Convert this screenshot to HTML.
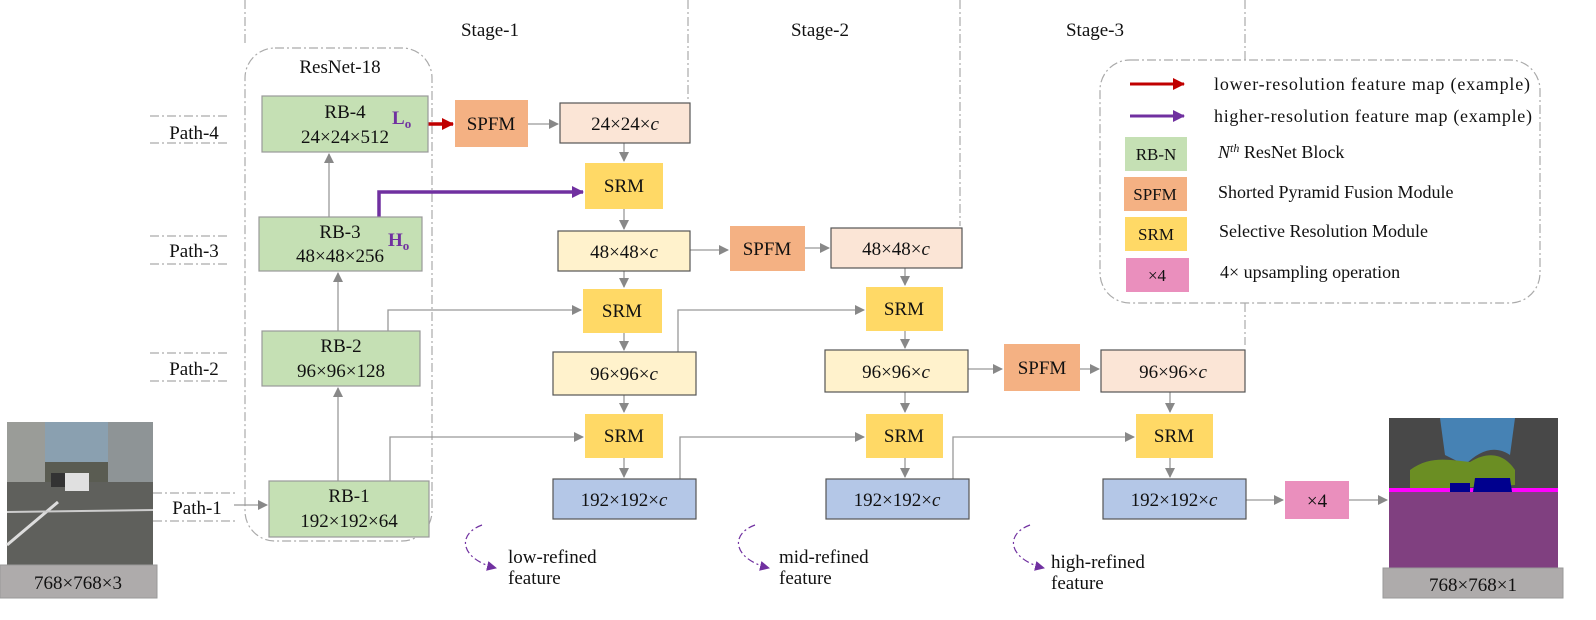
<!DOCTYPE html>
<html><head><meta charset="utf-8"><style>
html,body{margin:0;padding:0;background:#fff;}
svg{display:block;font-family:"Liberation Serif",serif;}
</style></head><body>
<svg width="1596" height="620" viewBox="0 0 1596 620" xmlns="http://www.w3.org/2000/svg">
<defs>
<marker id="g" markerWidth="10" markerHeight="10" refX="9" refY="5" orient="auto" markerUnits="userSpaceOnUse"><path d="M0,0 L10,5 L0,10 z" fill="#888"/></marker>
<marker id="r" markerWidth="12" markerHeight="12" refX="11" refY="6" orient="auto" markerUnits="userSpaceOnUse"><path d="M0,0 L12,6 L0,12 z" fill="#c00000"/></marker>
<marker id="p" markerWidth="12" markerHeight="12" refX="11" refY="6" orient="auto" markerUnits="userSpaceOnUse"><path d="M0,0 L12,6 L0,12 z" fill="#7030a0"/></marker>
<marker id="pc" markerWidth="10" markerHeight="10" refX="9" refY="5" orient="auto" markerUnits="userSpaceOnUse"><path d="M0,0 L10,5 L0,10 z" fill="#7030a0"/></marker>
</defs>
<g stroke="#aaa" stroke-width="1.2" fill="none" stroke-dasharray="9,3,2,3">
<line x1="245" y1="0" x2="245" y2="46"/>
<line x1="688" y1="0" x2="688" y2="102"/>
<line x1="960" y1="0" x2="960" y2="226"/>
<line x1="1245" y1="0" x2="1245" y2="60"/>
<line x1="1245" y1="303" x2="1245" y2="345"/>
<rect x="245" y="48" width="187" height="493" rx="30"/>
<rect x="1100" y="60" width="440" height="243" rx="30"/>
<line x1="150" y1="116" x2="228" y2="116"/><line x1="150" y1="143" x2="228" y2="143"/>
<line x1="150" y1="236" x2="228" y2="236"/><line x1="150" y1="264" x2="228" y2="264"/>
<line x1="150" y1="353" x2="228" y2="353"/><line x1="150" y1="381" x2="228" y2="381"/>
<line x1="153" y1="493" x2="235" y2="493"/><line x1="153" y1="521" x2="235" y2="521"/>
</g>
<g font-size="19" fill="#111" text-anchor="middle">
<text x="490" y="36">Stage-1</text><text x="820" y="36">Stage-2</text><text x="1095" y="36">Stage-3</text>
<text x="340" y="73">ResNet-18</text>
<text x="194" y="139">Path-4</text><text x="194" y="257">Path-3</text><text x="194" y="375">Path-2</text><text x="197" y="514">Path-1</text>
</g>
<g stroke="#999" stroke-width="1.3" fill="none" marker-end="url(#g)">
<line x1="234" y1="505" x2="267" y2="505"/>
<line x1="338" y1="481" x2="338" y2="388"/>
<line x1="338" y1="331" x2="338" y2="273"/>
<line x1="329" y1="217" x2="329" y2="154"/>
<line x1="528" y1="124" x2="558" y2="124"/>
<line x1="624" y1="143" x2="624" y2="161"/>
<line x1="624" y1="209" x2="624" y2="229"/>
<line x1="690" y1="250" x2="728" y2="250"/>
<line x1="805" y1="248" x2="829" y2="248"/>
<line x1="624" y1="271" x2="624" y2="287"/>
<polyline points="388,331 388,310 581,310"/>
<line x1="624" y1="333" x2="624" y2="350"/>
<line x1="905" y1="268" x2="905" y2="285"/>
<polyline points="678,352 678,310 864,310"/>
<line x1="905" y1="331" x2="905" y2="348"/>
<line x1="968" y1="369" x2="1002" y2="369"/>
<line x1="1080" y1="369" x2="1099" y2="369"/>
<line x1="624" y1="395" x2="624" y2="412"/>
<polyline points="390,481 390,437 583,437"/>
<line x1="624" y1="458" x2="624" y2="477"/>
<polyline points="680,479 680,437 864,437"/>
<line x1="905" y1="392" x2="905" y2="412"/>
<line x1="905" y1="458" x2="905" y2="477"/>
<polyline points="953,479 953,437 1134,437"/>
<line x1="1170" y1="392" x2="1170" y2="412"/>
<line x1="1170" y1="458" x2="1170" y2="477"/>
<line x1="1246" y1="500" x2="1283" y2="500"/>
<line x1="1349" y1="500" x2="1387" y2="500"/>
</g>
<line x1="428" y1="124" x2="453" y2="124" stroke="#c00000" stroke-width="3.5" marker-end="url(#r)"/>
<polyline points="379,217 379,192 583,192" stroke="#7030a0" stroke-width="3.5" fill="none" marker-end="url(#p)"/>
<g stroke="#999" stroke-width="1.2">
<rect x="262" y="96" width="166" height="56" fill="#c5e0b4"/>
<rect x="259" y="217" width="163" height="54" fill="#c5e0b4"/>
<rect x="262" y="331" width="158" height="55" fill="#c5e0b4"/>
<rect x="269" y="481" width="160" height="56" fill="#c5e0b4"/>
</g>
<g stroke="none">
<rect x="455" y="100" width="73" height="47" fill="#f4b183"/>
<rect x="730" y="226" width="75" height="45" fill="#f4b183"/>
<rect x="1004" y="344" width="76" height="47" fill="#f4b183"/>
<rect x="585" y="163" width="78" height="46" fill="#ffd966"/>
<rect x="583" y="289" width="79" height="44" fill="#ffd966"/>
<rect x="866" y="287" width="77" height="44" fill="#ffd966"/>
<rect x="585" y="414" width="78" height="44" fill="#ffd966"/>
<rect x="866" y="414" width="77" height="44" fill="#ffd966"/>
<rect x="1136" y="414" width="77" height="44" fill="#ffd966"/>
<rect x="1285" y="481" width="64" height="38" fill="#ea8fbd"/>
</g>
<g stroke="#555" stroke-width="1.2">
<rect x="560" y="103" width="130" height="40" fill="#fbe5d6"/>
<rect x="558" y="231" width="132" height="40" fill="#fff2cc"/>
<rect x="831" y="228" width="131" height="40" fill="#fbe5d6"/>
<rect x="553" y="352" width="143" height="43" fill="#fff2cc"/>
<rect x="825" y="350" width="143" height="42" fill="#fff2cc"/>
<rect x="1101" y="350" width="144" height="42" fill="#fbe5d6"/>
<rect x="553" y="479" width="143" height="40" fill="#b4c7e7"/>
<rect x="826" y="479" width="143" height="40" fill="#b4c7e7"/>
<rect x="1103" y="479" width="143" height="40" fill="#b4c7e7"/>
</g>
<g font-size="19" fill="#111" text-anchor="middle">
<text x="345" y="118">RB-4</text><text x="345" y="143">24×24×512</text>
<text x="340" y="238">RB-3</text><text x="340" y="262">48×48×256</text>
<text x="341" y="352">RB-2</text><text x="341" y="377">96×96×128</text>
<text x="349" y="502">RB-1</text><text x="349" y="527">192×192×64</text>
<text x="491" y="130">SPFM</text><text x="767" y="255">SPFM</text><text x="1042" y="374">SPFM</text>
<text x="624" y="192">SRM</text><text x="622" y="317">SRM</text><text x="904" y="315">SRM</text>
<text x="624" y="442">SRM</text><text x="904" y="442">SRM</text><text x="1174" y="442">SRM</text>
<text x="625" y="130">24×24×<tspan font-style="italic">c</tspan></text>
<text x="624" y="258">48×48×<tspan font-style="italic">c</tspan></text>
<text x="896" y="255">48×48×<tspan font-style="italic">c</tspan></text>
<text x="624" y="380">96×96×<tspan font-style="italic">c</tspan></text>
<text x="896" y="378">96×96×<tspan font-style="italic">c</tspan></text>
<text x="1173" y="378">96×96×<tspan font-style="italic">c</tspan></text>
<text x="624" y="506">192×192×<tspan font-style="italic">c</tspan></text>
<text x="897" y="506">192×192×<tspan font-style="italic">c</tspan></text>
<text x="1174" y="506">192×192×<tspan font-style="italic">c</tspan></text>
<text x="1317" y="507">×4</text>
</g>
<g font-size="19" font-weight="bold" fill="#7030a0">
<text x="392" y="124">L<tspan font-size="13" dy="4">o</tspan></text>
<text x="388" y="246">H<tspan font-size="13" dy="4">o</tspan></text>
</g>
<g stroke="#7030a0" stroke-width="1.2" fill="none" stroke-dasharray="7,3,2,3" marker-end="url(#pc)">
<path d="M482,525 C455,535 462,560 496,568"/>
<path d="M755,525 C728,535 735,560 769,568"/>
<path d="M1030,525 C1003,535 1010,560 1044,568"/>
</g>
<g font-size="19" fill="#111">
<text x="508" y="563">low-refined</text><text x="508" y="584">feature</text>
<text x="779" y="563">mid-refined</text><text x="779" y="584">feature</text>
<text x="1051" y="568">high-refined</text><text x="1051" y="589">feature</text>
</g>
<line x1="1130" y1="84" x2="1184" y2="84" stroke="#c00000" stroke-width="3" marker-end="url(#r)"/>
<line x1="1130" y1="116" x2="1184" y2="116" stroke="#7030a0" stroke-width="3" marker-end="url(#p)"/>
<rect x="1125" y="137" width="62" height="34" fill="#c5e0b4"/>
<rect x="1124" y="177" width="63" height="34" fill="#f4b183"/>
<rect x="1125" y="217" width="62" height="34" fill="#ffd966"/>
<rect x="1126" y="258" width="63" height="34" fill="#ea8fbd"/>
<g font-size="17" fill="#111" text-anchor="middle">
<text x="1156" y="160">RB-N</text><text x="1155" y="200">SPFM</text><text x="1156" y="240">SRM</text><text x="1157" y="281">×4</text>
</g>
<g font-size="18" fill="#111">
<text x="1214" y="90" textLength="316">lower-resolution feature map (example)</text>
<text x="1214" y="122" textLength="318">higher-resolution feature map (example)</text>
<text x="1218" y="158"><tspan font-style="italic">N</tspan><tspan font-style="italic" font-size="12" dy="-6">th</tspan><tspan dy="6"> ResNet Block</tspan></text>
<text x="1218" y="198">Shorted Pyramid Fusion Module</text>
<text x="1219" y="237">Selective Resolution Module</text>
<text x="1220" y="278">4× upsampling operation</text>
</g>
<rect x="7" y="422" width="146" height="143" fill="#5a5c52"/>
<rect x="40" y="422" width="70" height="40" fill="#8aa0b0"/>
<rect x="7" y="422" width="38" height="60" fill="#9a9c98"/>
<rect x="108" y="422" width="45" height="65" fill="#8e9496"/>
<rect x="7" y="482" width="146" height="83" fill="#5f605c"/>
<path d="M7,545 L58,502" stroke="#ddd" stroke-width="3"/>
<path d="M7,512 L153,510" stroke="#ccc" stroke-width="2"/>
<rect x="65" y="473" width="24" height="18" fill="#e0e0e0"/>
<rect x="51" y="473" width="14" height="14" fill="#333"/>
<rect x="0" y="565" width="157" height="33" fill="#aeabab" stroke="#999"/>
<text x="78" y="589" font-size="19" text-anchor="middle" fill="#111">768×768×3</text>
<rect x="1389" y="418" width="169" height="150" fill="#484848"/>
<path d="M1440,418 L1515,418 L1510,455 C1495,445 1480,450 1465,465 L1445,455 Z" fill="#4682b4"/>
<path d="M1410,470 C1430,455 1450,460 1470,462 C1490,450 1505,455 1515,470 L1515,485 L1410,490 Z" fill="#6b8e23"/>
<rect x="1389" y="491" width="169" height="77" fill="#804080"/>
<rect x="1389" y="488" width="169" height="4" fill="#f0f"/>
<path d="M1475,478 L1510,478 L1512,492 L1473,492 Z" fill="#00008e"/>
<path d="M1450,483 L1470,483 L1470,492 L1450,492 Z" fill="#00008e"/>
<rect x="1383" y="568" width="180" height="30" fill="#aeabab" stroke="#999"/>
<text x="1473" y="591" font-size="19" text-anchor="middle" fill="#111">768×768×1</text>
</svg>
</body></html>
